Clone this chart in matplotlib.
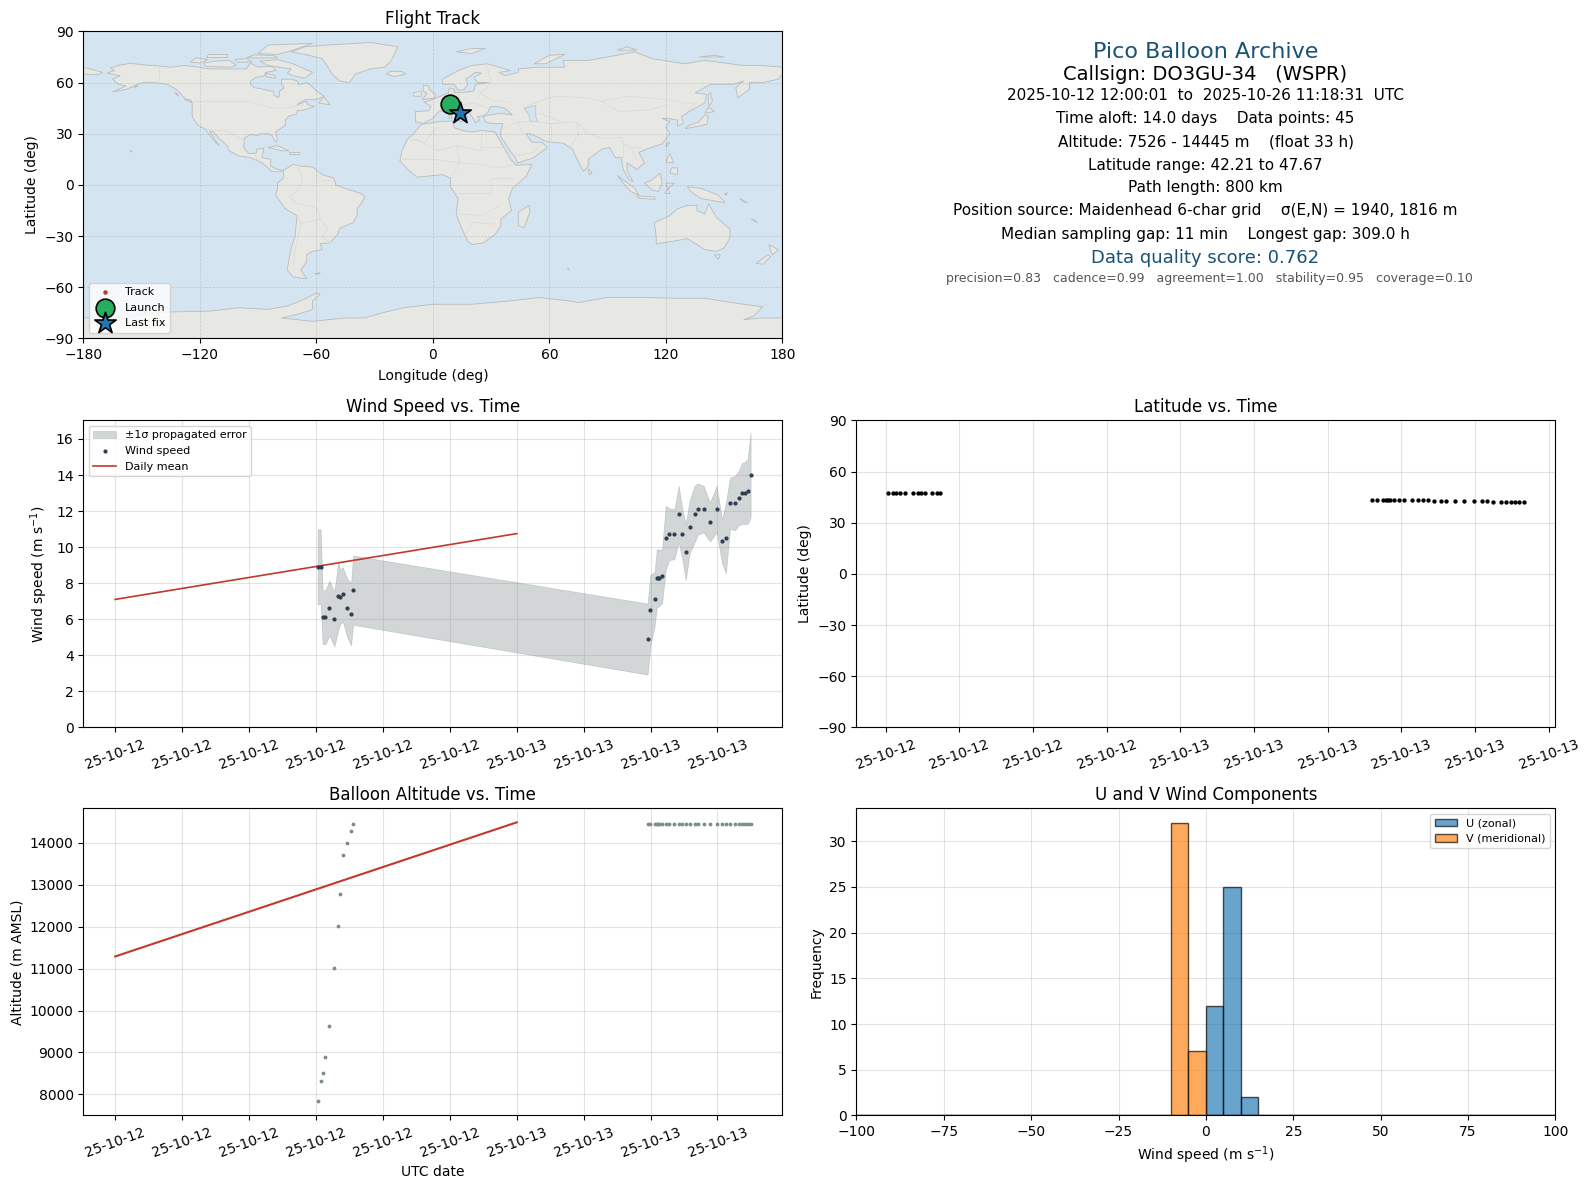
"""Pico balloon flight summary."""
from datetime import datetime, timedelta

import matplotlib
matplotlib.use('Agg')
import matplotlib.dates as mdates
import matplotlib.pyplot as plt
from matplotlib.patches import Polygon

# hours after 2025-10-12 00:00 UTC
hours = [12.1, 12.28, 12.4, 12.57, 12.8, 13.1, 13.33, 13.45, 13.6, 13.87, 14.1, 14.22,
         31.82, 31.99, 32.24, 32.37, 32.45, 32.53, 32.69, 32.9, 33.1, 33.42, 33.68, 33.9,
         34.1, 34.33, 34.63, 34.83, 35.17, 35.55, 35.95, 36.27, 36.5, 36.75, 37.04, 37.27,
         37.48, 37.62, 37.8, 37.98]
wind_speed = [8.91, 8.91, 6.12, 6.12, 6.62, 6.0, 7.28, 7.23, 7.39, 6.62, 6.28, 7.61,
              4.9, 6.5, 7.12, 8.28, 8.28, 8.3, 8.39, 10.5, 10.72, 10.72, 11.83, 10.72,
              9.72, 11.11, 11.83, 12.11, 12.11, 11.39, 12.11, 10.33, 10.5, 12.44, 12.44, 12.72,
              12.99, 12.99, 13.1, 13.99]
wind_err = [2.08, 2.08, 1.5, 1.5, 1.53, 1.5, 1.9, 1.5, 1.5, 1.62, 1.73, 1.92,
            1.97, 1.96, 1.5, 1.6, 1.6, 1.55, 1.5, 1.79, 1.44, 1.39, 1.57, 1.39,
            1.56, 1.46, 1.57, 1.42, 1.29, 1.08, 1.29, 1.22, 1.95, 1.42, 1.51, 1.51,
            1.7, 1.7, 1.8, 2.37]
latitude = [47.67, 47.67, 47.67, 47.67, 47.67, 47.67, 47.58, 47.33, 47.25, 47.25, 47.25, 47.25,
            43.46, 43.46, 43.46, 43.46, 43.46, 43.46, 43.46, 43.46, 43.46, 43.46, 43.46, 43.46,
            43.46, 42.96, 42.96, 42.96, 42.96, 42.96, 42.96, 42.96, 42.96, 42.38, 42.38, 42.38,
            42.38, 42.38, 42.21, 42.21]
longitude = [8.6, 8.7, 8.7, 8.8, 8.9, 9.0, 9.1, 9.2, 9.3, 9.4, 9.5, 9.6,
             11.2, 11.3, 11.4, 11.5, 11.5, 11.6, 11.7, 11.8, 11.9, 12.0, 12.1, 12.2,
             12.3, 12.4, 12.5, 12.6, 12.7, 12.8, 12.9, 13.0, 13.1, 13.3, 13.4, 13.6,
             13.7, 13.9, 14.0, 14.2]
altitude = [7830, 8309, 8499, 8879, 9639, 11017, 12014, 12774, 13701, 13986, 14295, 14445,
            14445, 14445, 14445, 14445, 14445, 14445, 14445, 14445, 14445, 14445, 14445, 14445,
            14445, 14445, 14445, 14445, 14445, 14445, 14445, 14445, 14445, 14445, 14445, 14445,
            14445, 14445, 14445, 14445]

mean_hours = [0, 24]
mean_wind = [7.1, 10.75]
mean_alt = [11290, 14490]

hist_edges = list(range(-100, 105, 5))
hist_left = [0, 5, 10]
u_counts = [12, 25, 2]
hist_left_v = [-10, -5]
v_counts = [32, 7]

# rough coastlines, lon/lat
north_america = [(-168, 65.5), (-164, 67), (-166, 68.5), (-162, 70), (-156, 71.3), (-148, 70.3), (-141, 69.7),
                 (-135, 69), (-128, 70), (-124, 69.5), (-115, 68), (-108, 68), (-102, 68), (-96, 68), (-94, 71.5),
                 (-90, 69), (-85, 69.5), (-82, 69), (-81, 67), (-86, 66), (-87, 64), (-91, 63), (-94, 61), (-94, 58.7),
                 (-92, 57), (-88, 56.3), (-85, 55.3), (-82, 55), (-82, 52.8), (-80, 51.3), (-79, 52), (-79, 55),
                 (-76.5, 57), (-78, 59), (-78, 62), (-73, 62), (-70, 61), (-69, 58.7), (-65, 60), (-62, 57.5),
                 (-60, 55), (-56, 52), (-60, 50), (-66, 50), (-70, 47), (-65, 49), (-64.5, 47), (-61, 46),
                 (-66, 44), (-70, 43.5), (-70, 41.5), (-74, 40.5), (-76, 38), (-76, 35), (-81, 31), (-80, 26.5),
                 (-81, 25), (-83, 29), (-85, 30), (-89, 30), (-90, 29), (-94, 29.5), (-97, 27.5), (-97.5, 22),
                 (-95, 18.5), (-91, 18.5), (-90.5, 21), (-87, 21.5), (-88, 16), (-83.5, 15), (-83.5, 11), (-80, 9),
                 (-77, 8.5), (-79, 7.5), (-83, 8), (-86, 11), (-88, 13), (-94, 16), (-100, 17), (-105, 20), (-106, 23),
                 (-110, 27), (-113, 31), (-115, 31.5), (-112, 26), (-110, 23), (-112, 25), (-115, 29), (-117, 32.5),
                 (-121, 35), (-124, 40), (-124, 48), (-128, 51), (-132, 56), (-137, 59), (-144, 60), (-149, 60),
                 (-152, 59), (-158, 56), (-165, 54.5), (-158, 58), (-162, 59), (-165, 62), (-161, 64)]
south_america = [(-77, 8.5), (-72, 12), (-68, 11), (-62, 10.5), (-57, 6), (-51, 4), (-50, 0), (-44, -2.5),
                 (-37, -5), (-35, -7), (-37, -11), (-39, -14), (-39, -18), (-41, -22), (-48, -25.5), (-49, -29), (-53, -34),
                 (-58, -34.5), (-57, -38), (-62, -39), (-65, -41), (-65, -45), (-68, -50), (-65, -55), (-72, -54),
                 (-75, -50), (-74, -43), (-73, -37), (-71, -30), (-70, -18), (-76, -14), (-81, -6), (-80, -2),
                 (-80, 1), (-77, 4)]
greenland = [(-73, 78), (-66, 81), (-55, 82), (-32, 83.5), (-18, 81), (-20, 76), (-22, 72), (-25, 69), (-32, 68),
             (-40, 65), (-43, 60), (-48, 61), (-52, 65), (-54, 69), (-57, 74), (-64, 76)]
africa = [(-6, 35.5), (3, 37), (10, 37.5), (11, 33.5), (15, 32), (20, 31), (25, 32), (32, 31), (33.5, 28),
          (35.5, 24), (37, 21), (38.5, 18), (40, 15), (43, 11.5), (51, 12), (48, 5), (41, -2), (39, -8),
          (40.5, -15), (35, -20), (35, -24), (32, -29), (26, -34), (20, -35), (18, -33), (15, -26), (12, -17),
          (13, -8), (9, -1), (9, 4), (5, 6), (-4, 5), (-8, 4.5), (-13, 9), (-17, 14), (-16, 20), (-13, 27), (-10, 30)]
eurasia = [(-9, 37), (-9, 43), (-2, 43.5), (-1, 46), (-4.5, 48.5), (2, 51), (4, 52), (8, 54), (8.5, 57),
           (11, 56), (11, 54), (18, 54.5), (21, 55), (22, 59), (29, 60), (23, 60), (21, 63), (25, 65.5),
           (22, 66), (17, 62), (18, 59), (16, 56), (13, 55.5), (11, 59), (5, 59), (5, 62), (13, 67),
           (20, 70), (28, 71), (40, 67), (34, 66), (37, 64), (44, 66), (44, 68), (54, 69), (60, 69),
           (68, 69), (67, 73), (73, 73), (80, 73), (90, 75), (104, 78), (113, 74), (130, 71), (140, 73),
           (160, 70), (170, 70), (180, 69), (180, 65), (178, 62), (170, 60), (163, 60), (163, 56), (157, 51),
           (156, 57), (160, 61), (155, 59), (143, 59), (135, 54), (141, 53), (140, 48), (132, 43), (128, 40),
           (129, 36), (126, 34.5), (126, 38), (121, 39), (118, 39), (122, 37), (120, 34), (122, 30),
           (118, 24), (110, 21), (106, 19), (109, 13), (105, 9), (100, 13), (100, 8), (103, 2), (101, 3),
           (98, 9), (97, 16), (94, 16), (91, 22), (87, 21), (80, 15), (80, 11), (77.5, 8), (73, 18), (72, 21),
           (67, 24.5), (61, 25), (57, 26), (56, 27), (50, 30), (48, 30), (51, 25), (56, 25), (59, 22),
           (52, 16), (43.5, 12.7), (42.5, 16), (39, 21), (37, 25), (35, 28), (35, 32), (36, 36), (30, 36),
           (27, 37), (26, 40), (29, 41), (35, 42), (41, 41), (37, 45), (33, 46), (30, 46), (28, 42), (26, 40.5),
           (23, 40), (24, 38), (22, 36.5), (19, 42), (14, 45), (12.5, 44), (18, 40), (16, 38), (12, 42), (9, 44),
           (3, 43), (0, 39), (-5, 36)]
russia_east_tip = [(-180, 69), (-175, 67.5), (-170, 66), (-173, 64.5), (-180, 65)]
australia = [(114, -22), (122, -18), (126, -14), (131, -12), (136, -12), (136, -15), (140, -17), (142, -11),
             (146, -19), (153, -26), (153, -31), (150, -37), (146, -39), (140, -38), (136, -35), (131, -31.5),
             (124, -33), (115, -34.5), (115, -30)]
antarctica = [(-180, -90), (-180, -78), (-158, -78), (-150, -76), (-135, -74.5), (-115, -74), (-100, -72),
              (-85, -73), (-75, -71), (-68, -68), (-60, -63.5), (-58, -64), (-62, -68), (-62, -73), (-70, -76),
              (-78, -78), (-62, -80), (-45, -78), (-35, -78), (-26, -75), (-15, -72), (0, -70), (20, -70),
              (40, -68), (55, -66), (70, -68), (75, -69), (90, -66), (110, -66), (125, -66.5), (140, -66.5),
              (160, -70), (170, -71.5), (165, -77), (160, -79), (170, -78), (180, -78), (180, -90)]
islands = [
    [(-5.5, 50), (1, 51), (1.5, 53), (-2, 56), (-2, 58), (-5, 58.5), (-5, 55), (-3, 53.5)],  # Britain
    [(-10, 52), (-6, 52), (-6, 55), (-10, 54)],
    [(-24, 65), (-20, 63.5), (-14, 65), (-16, 66.5), (-22, 66.5)],  # Iceland
    [(12, 78), (20, 80), (27, 80), (20, 77)],
    [(52, 71), (58, 71), (68, 76.5), (60, 76)],
    [(95, 79), (105, 79), (100, 81)],
    [(137, 75), (150, 75), (145, 76)],
    [(130, 33), (135, 34), (141, 35.5), (142, 40), (140, 41), (137, 37), (132, 35)],  # Honshu
    [(140, 42), (145, 43), (142, 45.5)],
    [(142, 46), (144, 49), (143, 54), (142, 53)],
    [(120, 22), (122, 25), (120.5, 24.5)],
    [(120, 14), (122, 18.5), (124, 13), (121, 13)],
    [(122, 7), (126, 6), (126, 10), (123, 10)],
    [(109, 1), (113, -3), (116, -4), (118, 1), (117, 7), (113, 3)],  # Borneo
    [(95, 5.5), (104, -2), (106, -6), (102, -4), (98, 1)],
    [(105, -6.5), (114, -7), (114.5, -8.5), (106, -7.8)],
    [(119.5, -5), (121, -2), (124.5, 1), (120, 1), (122, -5)],
    [(131, -1), (138, -2), (147, -6), (150.5, -10.5), (143, -9), (138, -8), (133, -4)],  # New Guinea
    [(145, -41), (148, -41), (147, -43.5)],
    [(173, -35), (178, -38), (175, -41), (174, -39)],
    [(172.5, -41), (174, -42), (170, -46.5), (166.5, -46)],
    [(44, -16), (49.5, -12), (50, -16), (47, -25), (44, -24)],  # Madagascar
    [(80, 9.5), (82, 7), (80.5, 6)],
    [(-85, 22), (-80, 23), (-74, 20), (-78, 20)],
    [(-74, 19.5), (-69, 19.5), (-69, 18), (-74, 18)],
    [(-59, 48), (-56, 51.5), (-53, 47)],
    [(-80, 73.5), (-72, 71), (-68, 69), (-62, 66), (-66, 62.5), (-72, 64), (-75, 65.5), (-73, 68), (-85, 70), (-89, 72.5)],  # Baffin
    [(-117, 69.5), (-105, 69), (-101, 70), (-105, 73), (-112, 72.5), (-118, 71.5)],  # Victoria
    [(-125, 72), (-120, 71.5), (-116, 73.5), (-122, 74.5)],  # Banks
    [(-117, 75), (-106, 75), (-106, 76.5), (-116, 76.5)],  # Melville
    [(-96, 74.5), (-80, 74.5), (-82, 75.8), (-92, 76.3)],  # Devon
    [(-90, 77), (-85, 82), (-62, 83), (-72, 79), (-80, 76.5)],  # Ellesmere
    [(-101, 72), (-93, 72), (-96, 74), (-102, 73.5)],
    [(-86, 65.5), (-81, 64), (-81, 62.5), (-86, 63.5)],
    [(-155.5, 19.2), (-155, 19.8), (-156, 20)],
    [(-61, -52), (-58, -51.5), (-58.5, -52.3)],
    [(8.3, 39), (9.7, 39.2), (9.5, 41), (8.3, 41)],
    [(12.5, 38), (15.5, 38.2), (15, 36.7)],
    [(-128, 50), (-124, 48.5), (-125, 50)],
    [(-154, 57), (-152, 58), (-153, 58)],
    [(-133, 54), (-131, 52), (-132, 53.8)],
    [(166, -21), (167, -22), (164, -20)],
    [(150, -5.5), (152, -4.5), (151, -6)],
    [(158, -8), (162, -10.5), (160, -10)],
    [(69, -49), (70, -49.6), (70, -49)],
]
caspian = [(47, 45), (53, 46.5), (53, 40), (54, 37), (50, 37.5), (49.5, 41)]
borders = [
    [(-141, 70), (-141, 60)], [(-123, 49), (-95, 49), (-83, 45), (-75, 45), (-67, 47)],
    [(-117, 32.5), (-106, 31.5), (-97, 26)], [(-92, 18), (-90, 14)],
    [(-70, 12), (-67, 2), (-70, -4), (-74, -7), (-70, -11), (-60, -13), (-58, -20), (-54, -26), (-57, -30), (-53, -34)],
    [(-60, 8), (-60, 2), (-52, 3)], [(-70, -18), (-68, -23), (-71, -38), (-72, -50)], [(-68, -23), (-58, -20)],
    [(-9, 27), (2, 20), (12, 23), (25, 20), (25, 31)], [(-13, 27), (-4, 25), (2, 34)], [(25, 22), (37, 22)],
    [(12, 23), (14, 13), (24, 12), (34, 10), (42, 12)], [(-16, 15), (0, 15), (14, 13)], [(9, 4), (14, 13)],
    [(12, -5), (30, -5), (30, 4), (42, 4)], [(12, -17), (25, -18), (35, -12)], [(17, -29), (20, -22), (32, -23)],
    [(3, 43), (8, 48), (7, 54)], [(13, 54), (15, 47), (22, 48), (28, 45)], [(24, 54), (30, 50), (40, 48)],
    [(28, 70), (30, 60), (27, 56), (24, 54)], [(48, 46), (62, 52), (80, 51), (87, 49), (100, 52), (120, 50), (130, 48), (135, 48), (131, 43)],
    [(87, 49), (96, 43), (112, 44), (120, 47)], [(54, 37), (61, 36), (74, 37), (80, 30), (88, 27), (97, 28), (98, 24), (102, 22), (108, 21.5)],
    [(61, 36), (61, 25)], [(74, 37), (75, 30), (70, 21)], [(44, 37), (46, 30)], [(36, 33), (44, 37), (54, 37)],
    [(42, 17), (52, 19), (56, 24)], [(98, 24), (98, 16)], [(102, 22), (105, 15)], [(55, 42), (66, 37)],
]

lon_ticks = [-180, -120, -60, 0, 60, 120, 180]
lat_ticks = [-90, -60, -30, 0, 30, 60, 90]

info_lines = ['2025-10-12 12:00:01  to  2025-10-26 11:18:31  UTC',
              'Time aloft: 14.0 days    Data points: 45',
              'Altitude: 7526 - 14445 m    (float 33 h)',
              'Latitude range: 42.21 to 47.67',
              'Path length: 800 km',
              'Position source: Maidenhead 6-char grid    σ(E,N) = 1940, 1816 m',
              'Median sampling gap: 11 min    Longest gap: 309.0 h']
info_y = [95.3, 118.6, 141.9, 165.2, 187.5, 210.8, 234.1]

WIDTH, HEIGHT = 1588, 1189
base = datetime(2025, 10, 12)
times = [base + timedelta(hours=h) for h in hours]
mean_times = [base + timedelta(hours=h) for h in mean_hours]
upper = [w + e for w, e in zip(wind_speed, wind_err)]
lower = [w - e for w, e in zip(wind_speed, wind_err)]


def axes_px(fig, x0, y0, x1, y1):
    return fig.add_axes([x0 / WIDTH, 1 - y1 / HEIGHT, (x1 - x0) / WIDTH, (y1 - y0) / HEIGHT])


def date_axis(ax, step):
    ax.xaxis.set_major_locator(mdates.HourLocator(byhour=range(0, 24, step)))
    ax.xaxis.set_major_formatter(mdates.DateFormatter('%y-%m-%d'))
    ax.tick_params(axis='x', labelrotation=20)
    ax.grid(True, alpha=0.35)
    ax.set_axisbelow(True)


fig = plt.figure(figsize=(WIDTH / 100, HEIGHT / 100), dpi=100)

# map
ax_map = axes_px(fig, 83.4, 31.4, 782.4, 338.4)
ax_map.set_facecolor('#d4e5f1')
land = [north_america, south_america, greenland, africa, eurasia, russia_east_tip, australia, antarctica] + islands
for shape in land:
    ax_map.add_patch(Polygon(shape, closed=True, facecolor='#e7e7e3', edgecolor='#b9bcbc', linewidth=0.6, zorder=1))
ax_map.add_patch(Polygon(caspian, closed=True, facecolor='#d4e5f1', edgecolor='#b9bcbc', linewidth=0.5, zorder=1.1))
for line in borders:
    ax_map.plot([p[0] for p in line], [p[1] for p in line], color='#d9d9d5', lw=0.5, zorder=1.2)
ax_map.scatter(longitude, latitude, s=5, color='#c0392b', label='Track', zorder=3)
ax_map.scatter(longitude[0], latitude[0], s=180, color='#27ae60', edgecolor='black', linewidth=1.2,
               label='Launch', zorder=4)
ax_map.scatter(longitude[-1], latitude[-1], s=260, marker='*', color='#1f77b4', edgecolor='black', linewidth=1.2,
               label='Last fix', zorder=5)
ax_map.set_xlim(-180, 180)
ax_map.set_ylim(-90, 90)
ax_map.set_xticks(lon_ticks)
ax_map.set_yticks(lat_ticks)
ax_map.grid(True, linestyle='--', linewidth=0.5, color='gray', alpha=0.3, zorder=2)
ax_map.set_title('Flight Track', fontsize=12, pad=5)
ax_map.set_xlabel('Longitude (deg)', labelpad=5)
ax_map.set_ylabel('Latitude (deg)')
ax_map.legend(loc='lower left', fontsize=8, framealpha=0.8)

# header text
cx = 1205.5 / WIDTH
fig.text(cx, 1 - 51.7 / HEIGHT, 'Pico Balloon Archive', fontsize=16, color='#1a5276', ha='center', va='center')
fig.text(cx, 1 - 74 / HEIGHT, 'Callsign: DO3GU-34   (WSPR)', fontsize=14, ha='center', va='center')
for text, y in zip(info_lines, info_y):
    fig.text(cx, 1 - y / HEIGHT, text, fontsize=11, ha='center', va='center')
fig.text(cx, 1 - 258.4 / HEIGHT, 'Data quality score: 0.762', fontsize=13, color='#1a5276', ha='center', va='center')
fig.text(cx + 3.5 / WIDTH, 1 - 278.7 / HEIGHT,
         'precision=0.83   cadence=0.99   agreement=1.00   stability=0.95   coverage=0.10',
         fontsize=9, color='#555555', ha='center', va='center')

# wind speed
ax_wind = axes_px(fig, 83.4, 420.4, 782.4, 727.4)
ax_wind.fill_between(times, lower, upper, color='#7f8c8d', alpha=0.35, linewidth=0.5, label='±1σ propagated error')
ax_wind.scatter(times, wind_speed, s=4, color='#2c3e50', label='Wind speed', zorder=3)
ax_wind.plot(mean_times, mean_wind, color='#c0392b', lw=1.2, label='Daily mean')
date_axis(ax_wind, 4)
ax_wind.set_ylim(0, 17.03)
ax_wind.set_title('Wind Speed vs. Time', fontsize=12)
ax_wind.set_ylabel('Wind speed (m s$^{-1}$)')
ax_wind.legend(loc='upper left', fontsize=8)

# latitude
ax_lat = axes_px(fig, 856.4, 420.4, 1555.4, 727.4)
ax_lat.scatter(times, latitude, s=4.5, color='black')
date_axis(ax_lat, 3)
ax_lat.set_ylim(-90, 90)
ax_lat.set_yticks(lat_ticks)
ax_lat.set_title('Latitude vs. Time', fontsize=12)
ax_lat.set_ylabel('Latitude (deg)')

# altitude
ax_alt = axes_px(fig, 83.4, 808.4, 782.4, 1115.4)
ax_alt.scatter(times, altitude, s=3, color='#7f8c8d', zorder=3)
ax_alt.plot(mean_times, mean_alt, color='#c0392b', lw=1.5)
date_axis(ax_alt, 4)
ax_alt.set_title('Balloon Altitude vs. Time', fontsize=12)
ax_alt.set_xlabel('UTC date')
ax_alt.set_ylabel('Altitude (m AMSL)')

# wind components
ax_hist = axes_px(fig, 856.4, 808.4, 1555.4, 1115.4)
ax_hist.hist(hist_left, bins=hist_edges, weights=u_counts, alpha=0.67, edgecolor='black', label='U (zonal)')
ax_hist.hist(hist_left_v, bins=hist_edges, weights=v_counts, alpha=0.67, edgecolor='black', label='V (meridional)')
ax_hist.set_xlim(-100, 100)
ax_hist.grid(True, alpha=0.35)
ax_hist.set_axisbelow(True)
ax_hist.set_title('U and V Wind Components', fontsize=12)
ax_hist.set_xlabel('Wind speed (m s$^{-1}$)')
ax_hist.set_ylabel('Frequency')
ax_hist.legend(loc='upper right', fontsize=8)

plt.savefig('out.png', dpi=100)
